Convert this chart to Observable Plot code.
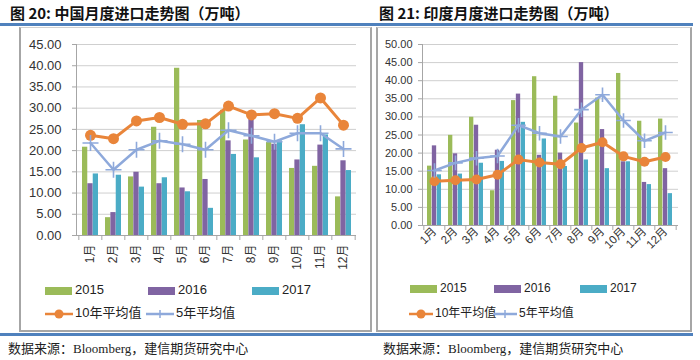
<!DOCTYPE html>
<html><head><meta charset="utf-8">
<script src="https://cdn.jsdelivr.net/npm/d3@7"></script>
<script src="https://cdn.jsdelivr.net/npm/@observablehq/plot@0.6"></script>
<style>
body{margin:0;width:700px;height:360px;position:relative;background:#fff;overflow:hidden;font-family:"Noto Sans CJK SC",sans-serif}
.abs{position:absolute}
.title{position:absolute;font-size:15px;font-weight:700;color:#111;line-height:18px;white-space:nowrap}
.src{position:absolute;font-size:13px;color:#222;line-height:16px;white-space:nowrap;font-family:"Liberation Serif","Noto Sans CJK SC",serif}
.box{position:absolute;border:2px solid #A6A6A6;border-top:1px solid #D0D0D0;box-sizing:border-box}
.leg{position:absolute;white-space:nowrap;color:#222;font-family:"Liberation Sans","Noto Sans CJK SC",sans-serif;line-height:14px}
.leg svg{vertical-align:middle}
</style></head><body>
<script>
// ---------- data ----------
const months = ["1月","2月","3月","4月","5月","6月","7月","8月","9月","10月","11月","12月"];
const seriesNames = ["2015","2016","2017"];
const avgNames = ["10年平均值","5年平均值"];
// China monthly imports (万吨)
const cn2015 = [20.8,4.2,13.8,25.5,39.4,27.1,29.5,22.5,21.9,15.8,16.3,9.1];
const cn2016 = [12.2,5.4,14.9,12.2,11.2,13.2,22.3,27.7,21.5,17.8,21.3,17.6];
const cn2017 = [14.5,14.2,11.4,13.6,10.3,6.4,19.1,18.3,22.3,26.1,23.7,15.3];
const cnAvg10 = [23.6,22.8,27.0,27.8,26.2,26.3,30.5,28.4,28.7,27.6,32.4,26.0];
const cnAvg5 = [21.8,15.5,20.2,22.3,21.5,20.2,24.8,23.5,22.1,24.1,24.1,20.4];
const cnTicks = [0,5,10,15,20,25,30,35,40,45];
// India monthly imports (万吨)
const in2015 = [16.4,24.9,29.9,9.6,34.5,41.1,35.7,28.3,35.2,42.0,28.8,29.4];
const in2016 = [22.0,19.8,27.7,20.8,36.3,19.4,20.0,45.0,26.5,17.6,11.9,15.7];
const in2017 = [14.0,14.2,17.2,17.7,28.5,23.9,16.3,18.1,15.7,17.6,11.3,8.8];
const inAvg10 = [12.2,12.5,12.7,14.0,18.2,17.4,16.9,21.4,23.0,19.1,17.6,18.9];
const inAvg5 = [15.2,17.3,18.6,19.2,27.7,25.5,24.6,32.0,36.1,29.0,23.4,25.7];
const inTicks = [0,5,10,15,20,25,30,35,40,45,50];

const titles = ["图 20: 中国月度进口走势图（万吨）","图 21: 印度月度进口走势图（万吨）"];
const source = "数据来源：Bloomberg，建信期货研究中心";

const colors = {s2015:"#9BBB59", s2016:"#8064A2", s2017:"#4BACC6", avg10:"#E9853A", avg5:"#8EA9DB"};
const gray = "#A6A6A6";

function table(a,b,c,d,e){
  return months.map((m,i)=>({month:m, s2015:a[i], s2016:b[i], s2017:c[i], avg10:d[i], avg5:e[i]}));
}

function add(html, cls, style){
  const el = document.createElement("div");
  el.className = cls; el.innerHTML = html;
  Object.assign(el.style, style);
  document.body.appendChild(el);
  return el;
}

function chart(cfg){
  const data = table(...cfg.arrays);
  const plotW = cfg.width - cfg.marginLeft - cfg.marginRight;
  const step = plotW / months.length;
  const p = cfg.padding;
  const bw = step * (1 - p);
  const fontStyle = {fontFamily:"'Liberation Sans','Noto Sans CJK SC',sans-serif", fontSize: cfg.fontSize + "px", color:"#333", background:"transparent"};
  const svg = Plot.plot({
    width: cfg.width, height: cfg.height,
    marginLeft: cfg.marginLeft, marginRight: cfg.marginRight,
    marginTop: cfg.marginTop, marginBottom: cfg.marginBottom,
    style: fontStyle,
    x: {type:"band", domain: months, paddingInner: p, paddingOuter: p/2},
    y: {domain: [0, cfg.ticks[cfg.ticks.length-1]]},
    marks: [
      Plot.gridY(cfg.ticks, {stroke:"#CFCFCF", strokeOpacity:1}),
      Plot.barY(data, {x:"month", y:"s2015", fill:colors.s2015, insetLeft:0, insetRight: bw*2/3}),
      Plot.barY(data, {x:"month", y:"s2016", fill:colors.s2016, insetLeft: bw/3, insetRight: bw/3}),
      Plot.barY(data, {x:"month", y:"s2017", fill:colors.s2017, insetLeft: bw*2/3, insetRight:0}),
      Plot.frame({anchor:"left", stroke: gray}),
      Plot.ruleY([0], {stroke: gray}),
      Plot.axisY({ticks: cfg.ticks, tickFormat: d => d.toFixed(2), tickSize: 4, tickPadding: cfg.yPad, stroke: gray, label: null, fontSize: cfg.fontSize}),
      Plot.axisX({ticks: months, text: null, tickSize: 5, dx: -step/2, stroke: gray, label: null}),
      Plot.axisX({ticks: [months[months.length-1]], text: null, tickSize: 5, dx: step/2, stroke: gray, label: null}),
      Plot.axisX({ticks: months, tickSize: 0, tickPadding: cfg.xPad, tickRotate: cfg.rotate, label: null, fontSize: cfg.xFont}),
      Plot.line(data, {x:"month", y:"avg10", stroke: colors.avg10, strokeWidth: 3}),
      Plot.dot(data, {x:"month", y:"avg10", r: cfg.r, fill: colors.avg10}),
      Plot.line(data, {x:"month", y:"avg5", stroke: colors.avg5, strokeWidth: 2.5}),
      Plot.dot(data, {x:"month", y:"avg5", symbol:"plus", r: cfg.r*0.95, stroke: colors.avg5, strokeWidth: 1.6})
    ]
  });
  svg.style.position = "absolute";
  svg.style.left = cfg.left + "px";
  svg.style.top = cfg.top + "px";
  document.body.appendChild(svg);
}

function swatchRect(c){ return `<svg width="${27}" height="8"><rect width="27" height="8" fill="${c}"/></svg>`; }
function swatchLine(c, kind, w){
  const mid = w/2;
  const mk = kind === "dot" ? `<circle cx="${mid}" cy="6" r="4.5" fill="${c}"/>` :
    `<path d="M${mid-4},6H${mid+4}M${mid},2V10" stroke="${c}" stroke-width="1.5"/>`;
  return `<svg width="${w}" height="12"><line x1="0" x2="${w}" y1="6" y2="6" stroke="${c}" stroke-width="2.5"/>${mk}</svg>`;
}

function legend(cfg){
  const keys = ["s2015","s2016","s2017"];
  keys.forEach((k,i)=>{
    add(swatchRect(colors[k]) + `<span style="margin-left:3px">${seriesNames[i]}</span>`, "leg",
      {left: cfg.row1[i] + "px", top: (cfg.y1 - 7) + "px", fontSize: cfg.fs + "px"});
  });
  add(swatchLine(colors.avg10, "dot", cfg.lw) + `<span style="margin-left:2px">${avgNames[0]}</span>`, "leg",
    {left: cfg.row2[0] + "px", top: (cfg.y2 - 7) + "px", fontSize: cfg.fs + "px"});
  add(swatchLine(colors.avg5, "plus", cfg.lw) + `<span style="margin-left:2px">${avgNames[1]}</span>`, "leg",
    {left: cfg.row2[1] + "px", top: (cfg.y2 - 7) + "px", fontSize: cfg.fs + "px"});
}

// frame decoration
add("", "abs", {left:"0px", top:"23px", width:"693px", height:"3px", background:"#4F81BD"});
add("", "abs", {left:"0px", top:"333px", width:"693px", height:"3px", background:"#4F81BD"});
add("", "box", {left:"19px", top:"27px", width:"353px", height:"305px"});
add("", "box", {left:"376px", top:"27px", width:"316px", height:"305px"});
add(titles[0], "title", {left:"10px", top:"4px"});
add(titles[1], "title", {left:"379px", top:"4px"});
add(source, "src", {left:"8px", top:"341px"});
add(source, "src", {left:"383px", top:"341px"});

chart({arrays:[cn2015,cn2016,cn2017,cnAvg10,cnAvg5], ticks: cnTicks, left:21, top:29, width:349, height:250,
  marginLeft:55, marginRight:14, marginTop:15, marginBottom:44, padding:0.31, fontSize:13, xFont:12, yPad:11,
  xPad:9, rotate:-90, r:5.5});
chart({arrays:[in2015,in2016,in2017,inAvg10,inAvg5], ticks: inTicks, left:378, top:29, width:312, height:240,
  marginLeft:44, marginRight:12, marginTop:15, marginBottom:44, padding:0.32, fontSize:11, xFont:11.5, yPad:6,
  xPad:4, rotate:-45, r:5});

legend({row1:[45,148,252], row2:[45,146], y1:290, y2:313, fs:13, lw:28});
legend({row1:[410,494,580], row2:[409,493], y1:288, y2:313, fs:12, lw:24});
</script>
</body></html>
